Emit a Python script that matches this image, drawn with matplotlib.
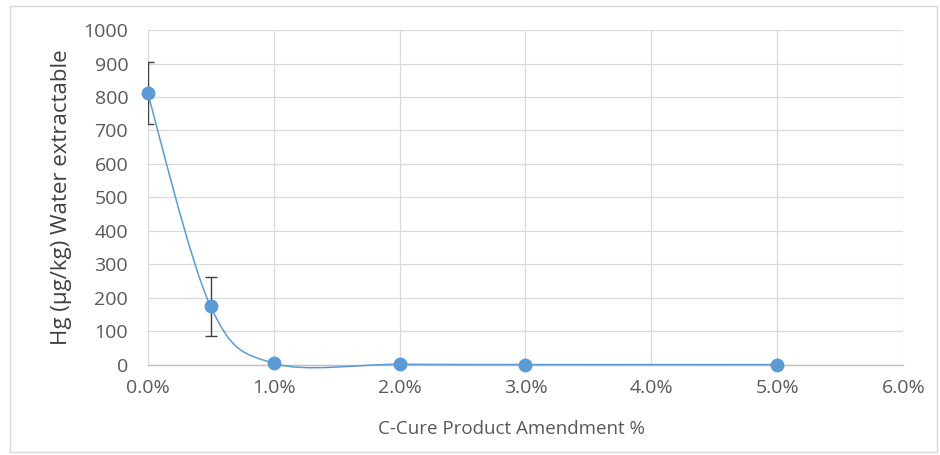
import numpy as np
import matplotlib.pyplot as plt
from matplotlib.path import Path
from matplotlib.patches import PathPatch, Rectangle
from matplotlib.ticker import FuncFormatter, MultipleLocator

plt.rcParams['font.family'] = ['Open Sans', 'DejaVu Sans']

# amendment fraction and water-extractable Hg
amendment = [0.0, 0.005, 0.01, 0.02, 0.03, 0.05]
hg = [812, 175, 5, 2, 1, 1]
hg_err = [92, 89, 0, 0, 0, 0]

blue = '#5B9BD5'
grey_text = '#595959'


def smooth_path(xs, ys, ax):
    # Excel-like smoothed line: cubic Bezier segments, Catmull-Rom control points
    # worked out in axes-fraction space so uneven spacing behaves
    to_ax = ax.transData + ax.transAxes.inverted()
    pts = to_ax.transform(np.column_stack([xs, ys]))
    n = len(pts)
    verts = [pts[0]]
    codes = [Path.MOVETO]
    for i in range(n - 1):
        p0 = pts[max(i - 1, 0)]
        p1 = pts[i]
        p2 = pts[i + 1]
        p3 = pts[min(i + 2, n - 1)]
        c1 = p1 + (p2 - p0) / 6
        c2 = p2 - (p3 - p1) / 6
        verts += [c1, c2, p2]
        codes += [Path.CURVE4] * 3
    return Path(verts, codes)


fig = plt.figure(figsize=(9.4, 4.55), dpi=100)
ax = fig.add_axes([0.157, 0.198, 0.804, 0.736])
ax.set_xlim(0, 0.06)
ax.set_ylim(0, 1000)

ax.xaxis.set_major_locator(MultipleLocator(0.01))
ax.yaxis.set_major_locator(MultipleLocator(100))
ax.xaxis.set_major_formatter(FuncFormatter(lambda v, p: f'{v * 100:.1f}%'))
ax.grid(True, color='#d9d9d9', linewidth=0.9)
ax.set_axisbelow(True)
for side in ['top', 'right', 'left']:
    ax.spines[side].set_visible(False)
ax.spines['bottom'].set_color('#bfbfbf')
ax.spines['bottom'].set_linewidth(1.0)
ax.tick_params(length=0, labelsize=14, colors=grey_text)
ax.tick_params(axis='x', pad=10)
ax.tick_params(axis='y', pad=14)

patch = PathPatch(smooth_path(amendment, hg, ax), transform=ax.transAxes,
                  facecolor='none', edgecolor=blue, linewidth=1.1, clip_on=False, zorder=3)
ax.add_patch(patch)

ax.errorbar(amendment[:2], hg[:2], yerr=hg_err[:2], fmt='none', ecolor='#404040',
            elinewidth=1.0, capsize=4, capthick=1.0, zorder=4)
ax.plot(amendment, hg, 'o', color=blue, markersize=9, clip_on=False, zorder=5)

ax.set_xlabel('C-Cure Product Amendment %', fontsize=13.5, color=grey_text)
ax.xaxis.set_label_coords(0.482, -0.165)
ax.set_ylabel('Hg (μg/kg) Water extractable', fontsize=16, color='#404040', labelpad=8)

fig.patches.append(Rectangle((10 / 940, 3 / 455), 927 / 940, 446 / 455, transform=fig.transFigure,
                             fill=False, edgecolor='#d9d9d9', linewidth=1.0))

fig.savefig('out.png', dpi=100)
